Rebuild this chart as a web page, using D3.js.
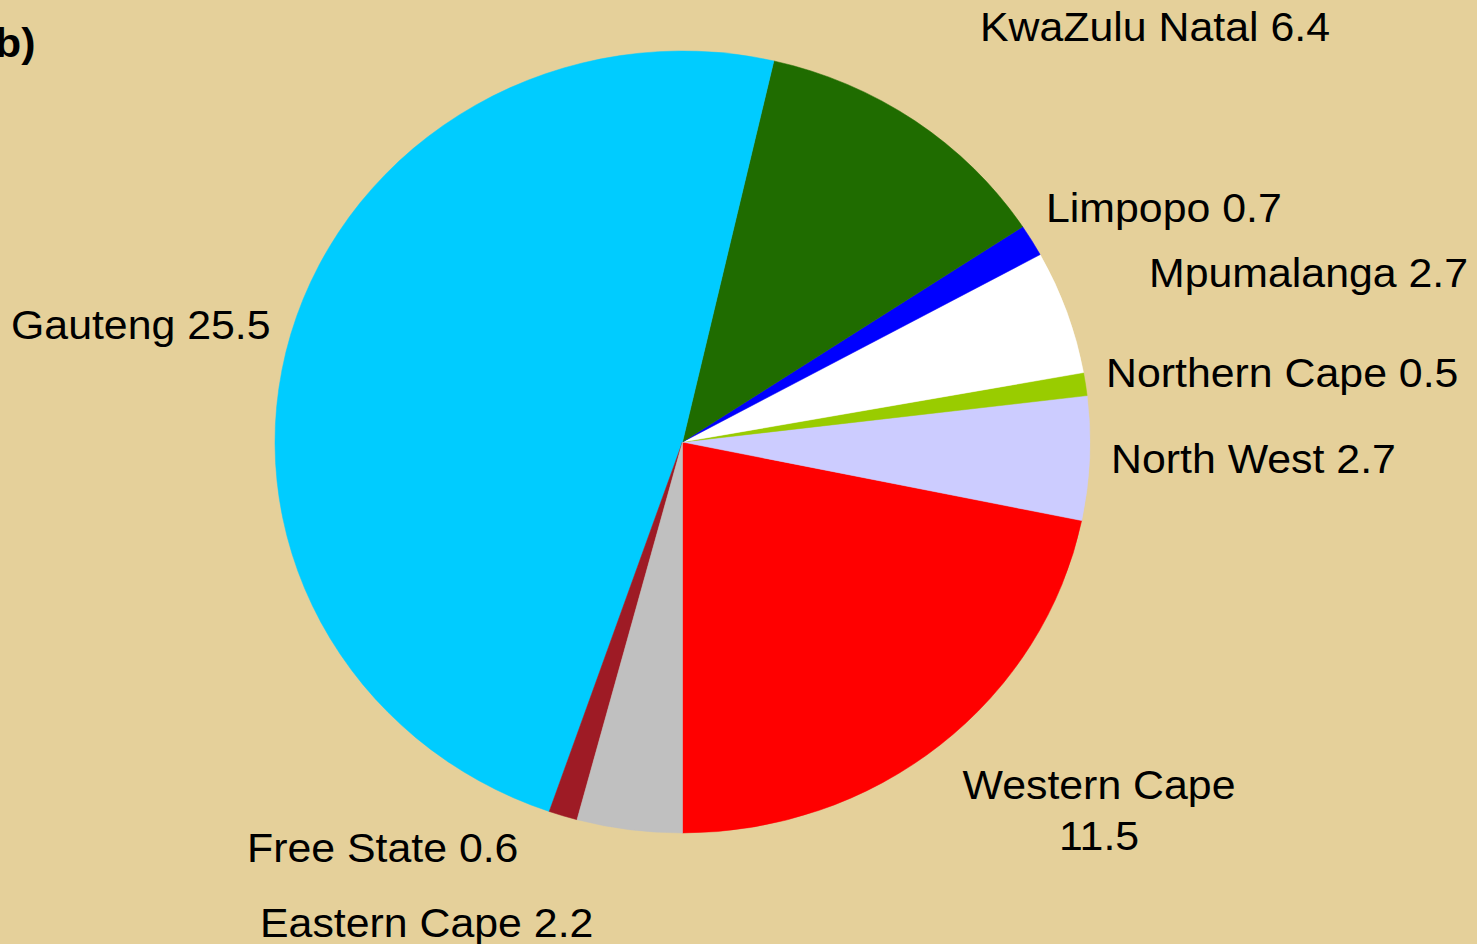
<!DOCTYPE html>
<html>
<head>
<meta charset="utf-8">
<script src="https://cdn.jsdelivr.net/npm/d3@7"></script>
<style>
  body { margin: 0; background: #E5D09A; }
  text { font-family: "Liberation Sans", Arial, sans-serif; font-size: 41px; fill: #000; }
  .panel { font-weight: bold; }
</style>
</head>
<body>
<svg width="1477" height="944"></svg>
<script>
// slices, counter-clockwise from 6 o'clock
var provinces = ["Western Cape", "North West", "Northern Cape", "Mpumalanga", "Limpopo",
                 "KwaZulu Natal", "Gauteng", "Free State", "Eastern Cape"];
var shares = [11.5, 2.7, 0.5, 2.7, 0.7, 6.4, 25.5, 0.6, 2.2];
var colours = ["#FF0000", "#CCCCFF", "#99CC00", "#FFFFFF", "#0000FF",
               "#1F6C00", "#00CCFF", "#9E1B25", "#C0C0C0"];

var width = 1477, height = 944;
var cx = 682.5, cy = 442, rx = 407.5, ry = 391;
var textStretch = 1.045;

var svg = d3.select("svg");

svg.append("rect")
  .attr("width", width)
  .attr("height", height)
  .attr("fill", "#E5D09A");

var data = provinces.map(function(p, i) {
  return {name: p, value: shares[i], colour: colours[i]};
});

var pie = d3.pie()
  .sort(null)
  .value(function(d) { return d.value; })
  .startAngle(Math.PI)
  .endAngle(-Math.PI);

var arc = d3.arc().innerRadius(0).outerRadius(ry);

// pie is slightly wider than tall in the original
var g = svg.append("g")
  .attr("transform", "translate(" + cx + "," + cy + ") scale(" + (rx / ry) + ",1)");

g.selectAll("path")
  .data(pie(data))
  .enter()
  .append("path")
  .attr("d", arc)
  .attr("fill", function(d) { return d.data.colour; })
  .attr("stroke", function(d) { return d.data.colour; })
  .attr("stroke-width", 0.5);

// label placement (hand positioned, like the original)
var labelLayout = {
  "Western Cape":  {x: 1099, y: 799, anchor: "middle", lines: ["Western Cape", "11.5"]},
  "North West":    {x: 1111, y: 473, anchor: "start"},
  "Northern Cape": {x: 1106, y: 387, anchor: "start"},
  "Mpumalanga":    {x: 1149, y: 287, anchor: "start"},
  "Limpopo":       {x: 1046, y: 222, anchor: "start"},
  "KwaZulu Natal": {x: 980,  y: 41,  anchor: "start"},
  "Gauteng":       {x: 11,   y: 339, anchor: "start"},
  "Free State":    {x: 247,  y: 862, anchor: "start"},
  "Eastern Cape":  {x: 260,  y: 937, anchor: "start"}
};

data.forEach(function(d) {
  var l = labelLayout[d.name];
  var lines = l.lines || [d.name + " " + d.value];
  var t = svg.append("text")
    .attr("transform", "translate(" + l.x + "," + l.y + ") scale(" + textStretch + ",1)")
    .attr("text-anchor", l.anchor);
  lines.forEach(function(s, i) {
    t.append("tspan")
      .attr("x", 0)
      .attr("dy", i == 0 ? 0 : 51)
      .text(s);
  });
});

svg.append("text")
  .attr("class", "panel")
  .attr("transform", "translate(-5,57) scale(" + textStretch + ",1)")
  .text("b)");
</script>
</body>
</html>
